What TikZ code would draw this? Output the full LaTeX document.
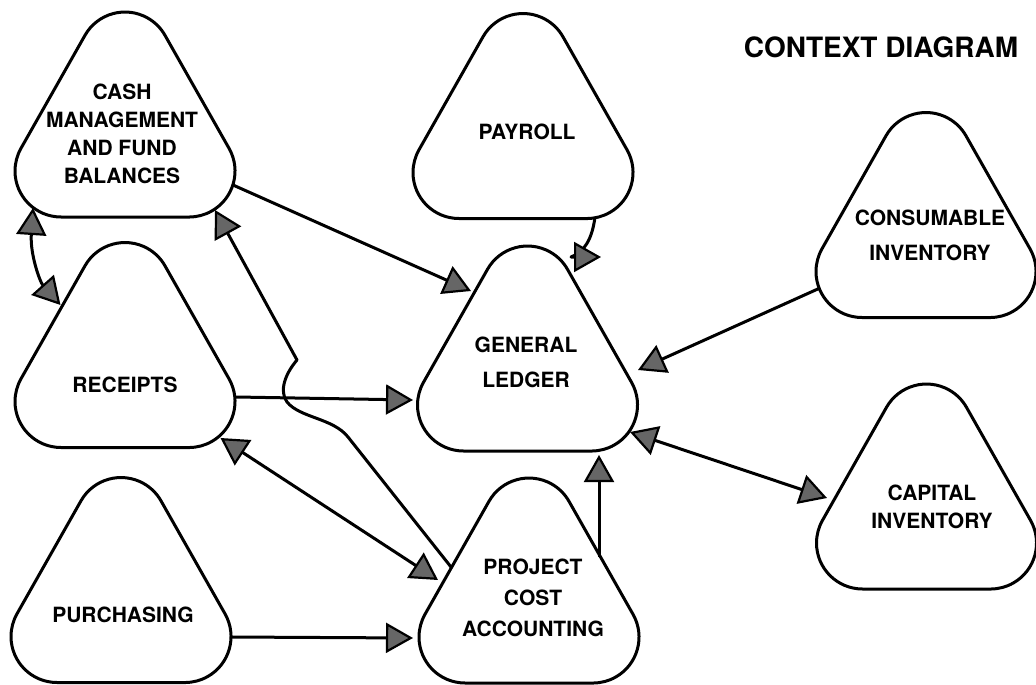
\documentclass[tikz,border=0pt]{standalone}
\usepackage{fontspec}
\setmainfont{TeX Gyre Heros}
\usetikzlibrary{arrows.meta,calc}

\tikzset{
  outline/.style={draw=black, line width=3pt, line join=round},
  link/.style={draw=black, line width=3pt, line join=round},
  >={Triangle[length=27pt,width=30pt,fill=black!60,line width=2.2pt]},
  lbl/.style={align=center, inner sep=0pt, font=\bfseries\fontsize{21}{#1}\selectfont},
  lbl/.default=31,
  heading/.style={inner sep=0pt, font=\bfseries\fontsize{28}{30}\selectfont},
}

% rounded triangle (hull of three circles of radius 46) around a named centre
\newcommand\procshape[1]{%
  \draw[outline] ($(#1)+(-40.04,-79.15)$) arc[start angle=209.53,end angle=330.47,radius=46]
    -- ($(#1)+(104.04,33.85)$) arc[start angle=-29.53,end angle=90,radius=46]
    -- ($(#1)+(-64,102.5)$) arc[start angle=90,end angle=209.53,radius=46] -- cycle;}

\begin{document}
\begin{tikzpicture}[x=1pt,y=-1pt]
\fill[white] (0,0) rectangle (1036,685);
\useasboundingbox (0,0) rectangle (1036,685);

% process centres
\coordinate (cash) at (125,114.5);
\coordinate (pay)  at (523,116);
\coordinate (gl)   at (527.5,348.5);
\coordinate (cons) at (926,215);
\coordinate (rec)  at (125,345);
\coordinate (pur)  at (121,580);
\coordinate (pca)  at (529,580.5);
\coordinate (cap)  at (926.5,486.5);

\foreach \s in {cash,pay,gl,cons,rec,pur,pca,cap} {\procshape{\s}}

% labels
\node[lbl=28] (cash-l) at (122,133.5) {CASH\\MANAGEMENT\\AND FUND\\BALANCES};
\node[lbl]    (pay-l)  at (527,132) {PAYROLL};
\node[lbl=35] (gl-l)   at (526,362) {GENERAL\\LEDGER};
\node[lbl=35] (cons-l) at (930,235) {CONSUMABLE\\INVENTORY};
\node[lbl]    (rec-l)  at (125,385) {RECEIPTS};
\node[lbl]    (pur-l)  at (123,615) {PURCHASING};
\node[lbl=31] (pca-l)  at (533,598) {PROJECT\\COST\\ACCOUNTING};
\node[lbl=28] (cap-l)  at (932,507) {CAPITAL\\INVENTORY};
\node[heading] (title) at (881,47) {CONTEXT DIAGRAM};

% data flows
\draw[link,->] ($(cash)+(108,70.5)$) -- ($(gl)+(-56.5,-57.5)$);
\draw[link,->] ($(pay)+(72,101)$) .. controls ($(pay)+(69,124)$) and ($(pay)+(61,136)$)
   .. ($(gl)+(43.5,-91.5)$) -- ($(gl)+(73.5,-91.5)$);
\draw[link,->] ($(cons)+(-106,73)$) -- ($(gl)+(110.5,21.5)$);
\draw[link,->] ($(rec)+(111,52)$) -- ($(gl)+(-114.5,51.5)$);
\draw[link,<->] ($(cash)+(-92,93.5)$) .. controls ($(cash)+(-95,140)$) and ($(rec)+(-85,-63)$)
   .. ($(rec)+(-64.5,-40)$);
\draw[link,->] ($(pca)+(-78,-13.5)$) -- ($(pca)+(-181,-143.5)$)
   .. controls ($(pca)+(-196,-162.5)$) and ($(pca)+(-229,-162.5)$) .. ($(pca)+(-242,-178.5)$)
   .. controls ($(pca)+(-250,-189.5)$) and ($(pca)+(-244,-206.5)$) .. ($(pca)+(-232,-220.5)$)
   -- ($(cash)+(90,95.5)$);
\draw[link,<->] ($(rec)+(95.5,93)$) -- ($(pca)+(-91,-0.5)$);
\draw[link,->] ($(pur)+(109,57)$) -- ($(pca)+(-116,57.5)$);
\draw[link,->] ($(pca)+(70,-23.5)$) -- ($(gl)+(71.5,106.5)$);
\draw[link,<->] ($(gl)+(102.5,83.5)$) -- ($(cap)+(-99.5,11.5)$);
\end{tikzpicture}
\end{document}
